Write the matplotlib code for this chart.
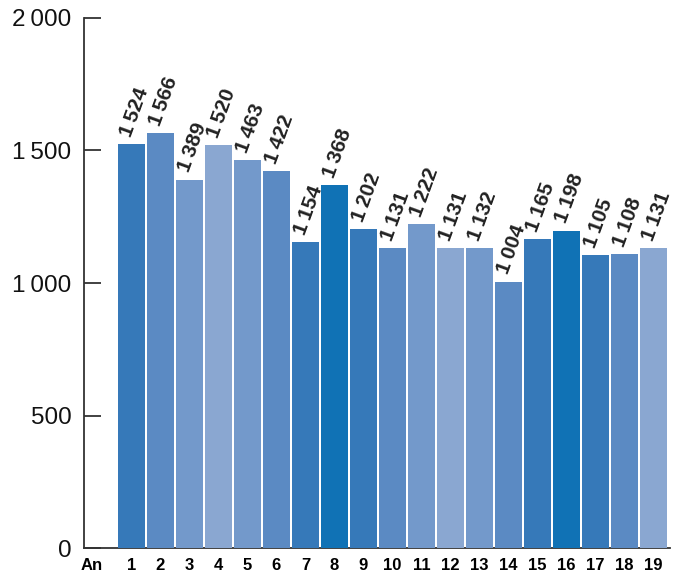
import numpy as np
import matplotlib.pyplot as plt

years = list(range(1, 20))
values = [1524, 1566, 1389, 1520, 1463, 1422, 1154, 1368, 1202, 1131,
          1222, 1131, 1132, 1004, 1165, 1198, 1105, 1108, 1131]
colors = ['#3679b9', '#5b8ac3', '#7399cb', '#8aa7d1', '#7399cb', '#5b8ac3',
          '#3679b9', '#1072b5', '#3679b9', '#5b8ac3', '#7399cb', '#8aa7d1',
          '#7399cb', '#5b8ac3', '#3679b9', '#1072b5', '#3679b9', '#5b8ac3',
          '#8aa7d1']
yticks = [0, 500, 1000, 1500, 2000]


def fmt(v):
    s = f'{v:,}'.replace(',', '\u2009')
    return s


plt.rcParams['font.family'] = ['Liberation Sans', 'DejaVu Sans']

fig = plt.figure(figsize=(6.74, 5.73), dpi=100)
ax = fig.add_axes([0.1246, 0.0436, 0.869, 0.925])

ax.bar(years, values, width=0.93, color=colors, zorder=2)

for x, v in zip(years, values):
    ax.annotate(fmt(v), (x, v), xytext=(-4, 6), textcoords='offset points',
                rotation=70, rotation_mode='anchor', ha='left', va='center',
                fontsize=15, fontweight='bold', color='#222222')

ax.set_xlim(-0.64, 19.57)
ax.set_ylim(0, 2000)
ax.set_yticks(yticks)
ax.set_yticklabels([fmt(t) for t in yticks])
ax.tick_params(axis='y', direction='in', length=12, width=1.3,
               color='#333333', pad=9, labelsize=17.5, labelcolor='#111111')

ax.set_xticks([-0.36] + years)
ax.set_xticklabels(['An'] + [str(y) for y in years])
ax.tick_params(axis='x', length=0, pad=7, labelsize=12)
for lab in ax.get_xticklabels():
    lab.set_fontweight('bold')
    lab.set_family(['Liberation Sans Narrow', 'Liberation Sans', 'DejaVu Sans'])

for side in ['top', 'right']:
    ax.spines[side].set_visible(False)
ax.spines['left'].set_color('#333333')
ax.spines['left'].set_linewidth(1.3)
ax.spines['bottom'].set_color('#333333')
ax.spines['bottom'].set_linewidth(1.3)
ax.spines['bottom'].set_zorder(1)

fig.savefig('out.png', dpi=100)
